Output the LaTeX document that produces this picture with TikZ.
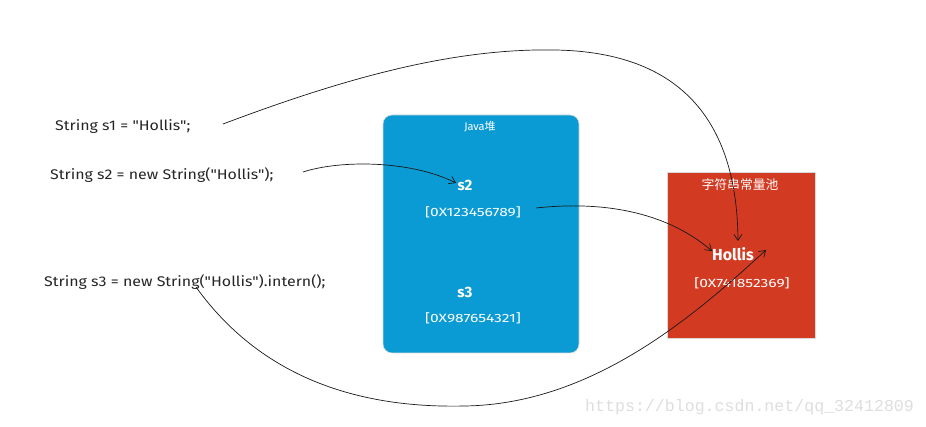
\documentclass[tikz,border=0pt]{standalone}
\usepackage{graphicx}
\usepackage{fontspec}
\setmainfont{Fira Sans}[Ligatures=TeXOff]
\newfontfamily\cjk{Noto Sans CJK SC}
\newfontfamily\wmfont{Liberation Mono}
\usetikzlibrary{arrows.meta}
\definecolor{heapblue}{RGB}{11,155,212}
\definecolor{poolred}{RGB}{211,58,34}
\definecolor{wmgray}{RGB}{222,222,222}
\newcommand\wider[2]{\scalebox{#1}[1]{#2}}
\begin{document}
\begin{tikzpicture}[x=1pt,y=-1pt,
  code/.style={font=\fontsize{14}{16}\selectfont, text=black!85, inner sep=0pt},
  wtxt/.style={text=white, inner sep=0pt},
  box/.style={draw=black!15, line width=0.6pt, inner sep=0pt},
  link/.style={draw=black!90, line width=0.7pt, -{Straight Barb[length=6pt,width=8pt]}}]
\useasboundingbox (0,0) rectangle (926,427);
\fill[white] (0,0) rectangle (926,427);
% boxes
\node[box, fill=heapblue, rounded corners=9pt, minimum width=196pt, minimum height=238pt] (heap) at (481,234) {};
\node[box, fill=poolred, minimum width=148pt, minimum height=166pt] (pool) at (741,255) {};
% code lines
\node[code, anchor=west] (c1) at (55,127) {\wider{1.14}{String s1 = "Hollis";}};
\node[code, anchor=west] (c2) at (50,175) {\wider{1.14}{String s2 = new String("Hollis");}};
\node[code, anchor=west] (c3) at (44,282) {\wider{1.14}{String s3 = new String("Hollis").intern();}};
% heap content
\node[wtxt, font=\fontsize{11}{13}\selectfont] (heapt) at (480,127) {Java{\cjk 堆}};
\node[wtxt, font=\fontsize{15}{17}\selectfont\bfseries] (s2) at (465,185) {s2};
\node[wtxt, font=\fontsize{12}{14}\selectfont] (a2) at (473,212) {\wider{1.3}{[0X123456789]}};
\node[wtxt, font=\fontsize{15}{17}\selectfont\bfseries] (s3) at (465,292) {s3};
\node[wtxt, font=\fontsize{12}{14}\selectfont] (a3) at (473,318) {\wider{1.3}{[0X987654321]}};
% pool content
\node[wtxt, font=\cjk\fontsize{12.8}{15}\selectfont] (poolt) at (740,185) {字符串常量池};
\node[wtxt, font=\fontsize{16}{18}\selectfont\bfseries] (hol) at (733,254) {Hollis};
\node[wtxt, font=\fontsize{12}{14}\selectfont] (a4) at (742,283) {\wider{1.3}{[0X741852369]}};
% watermark
\node[text=wmgray, font=\wmfont\fontsize{16.6}{18}\selectfont, anchor=west, inner sep=0pt] (wm) at (585,407) {https://blog.csdn.net/qq\_32412809};
% connector endpoints
\coordinate (p1) at (223,124);
\coordinate (p2) at (303,172);
\coordinate (p3) at (536,208);
\coordinate (p4) at (196,287);
\coordinate (h1) at (738,241);
\coordinate (h2) at (456,183);
\coordinate (h3) at (712,251);
\coordinate (h4) at (766,250);
% connectors
\draw[link] (p1) .. controls (340,80) and (450,48) .. (555,50)
  .. controls (680,52) and (737,120) .. (h1);
\draw[link] (p2) .. controls (340,160) and (410,160) .. (h2);
\draw[link] (p3) .. controls (610,200) and (670,215) .. (h3);
\draw[link] (p4) .. controls (270,390) and (380,408) .. (465,406)
  .. controls (590,404) and (690,320) .. (h4);
\end{tikzpicture}
\end{document}
